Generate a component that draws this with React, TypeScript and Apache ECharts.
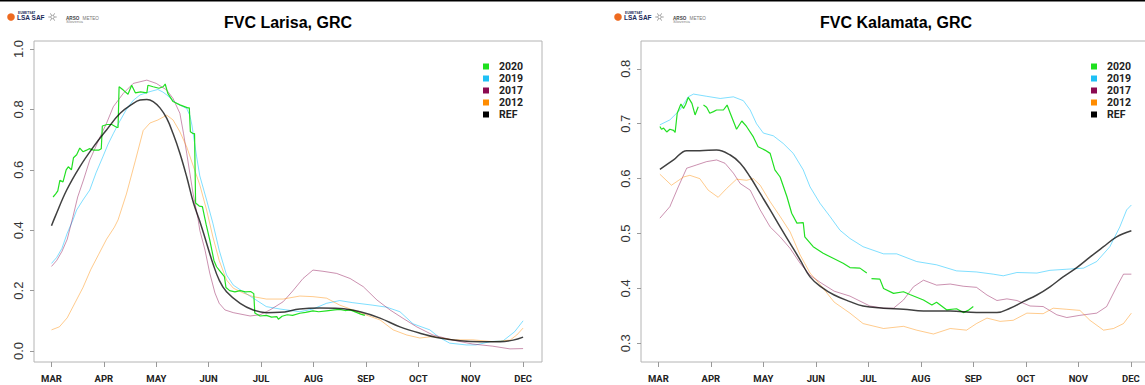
import React, { useEffect, useRef } from "react";
import * as echarts from "echarts";

// ---------- tick labels ----------
const MONTHS = ["MAR", "APR", "MAY", "JUN", "JUL", "AUG", "SEP", "OCT", "NOV", "DEC"];
const MONTH_POS = [0, 1, 2, 3, 4, 5, 6, 7, 8, 9];
const YTICKS_LEFT = [0, 0.2, 0.4, 0.6, 0.8, 1.0];
const YTICKS_RIGHT = [0.3, 0.4, 0.5, 0.6, 0.7, 0.8];

const TITLES = ["FVC Larisa, GRC", "FVC Kalamata, GRC"];
const SERIES_NAMES = ["2020", "2019", "2017", "2012", "REF"];
const LEGEND_COLORS = ["#1ee01e", "#1ec0f5", "#8b0a50", "#ff8c00", "#000000"];

// ---------- data: [month index from MAR 1, FVC] ----------
const LARISA_2020 = [
  [0.03, 0.51], [0.08, 0.52], [0.12, 0.53], [0.16, 0.565], [0.22, 0.56], [0.28, 0.6], [0.32, 0.61],
  [0.38, 0.6], [0.42, 0.64], [0.48, 0.65], [0.54, 0.672], [0.6, 0.66], [0.67, 0.665], [0.72, 0.67],
  [0.8, 0.665], [0.9, 0.665], [0.95, 0.67], [0.97, 0.745], [1.06, 0.75], [1.15, 0.75], [1.25, 0.74],
  [1.27, 0.74], [1.29, 0.875], [1.37, 0.864], [1.46, 0.85], [1.53, 0.88], [1.6, 0.855], [1.7, 0.858],
  [1.82, 0.855], [1.84, 0.88], [1.94, 0.875], [2.05, 0.87], [2.13, 0.875], [2.17, 0.884], [2.22, 0.853],
  [2.32, 0.826], [2.45, 0.815], [2.6, 0.805], [2.63, 0.805], [2.65, 0.726], [2.7, 0.72], [2.73, 0.72],
  [2.75, 0.49], [2.82, 0.48], [2.88, 0.478], [2.95, 0.42], [3.02, 0.368], [3.1, 0.3], [3.15, 0.279],
  [3.2, 0.268], [3.3, 0.246], [3.33, 0.21], [3.4, 0.2], [3.5, 0.196], [3.6, 0.2], [3.7, 0.196],
  [3.8, 0.197], [3.86, 0.19], [3.88, 0.126], [3.98, 0.116], [4.1, 0.118], [4.2, 0.112], [4.3, 0.114],
  [4.33, 0.105], [4.4, 0.115], [4.5, 0.12], [4.6, 0.118], [4.74, 0.125], [4.85, 0.128], [4.99, 0.133],
  [5.1, 0.13], [5.25, 0.133], [5.4, 0.136], [5.5, 0.138], [5.6, 0.134], [5.7, 0.136], [5.82, 0.128],
  [5.9, 0.122], [5.98, 0.118],
];
const LARISA_2019 = [
  [0, 0.29], [0.1, 0.31], [0.2, 0.34], [0.3, 0.39], [0.41, 0.434], [0.48, 0.467], [0.6, 0.5],
  [0.73, 0.533], [0.85, 0.59], [0.98, 0.643], [1.08, 0.685], [1.18, 0.72], [1.3, 0.76], [1.43, 0.8],
  [1.56, 0.83], [1.69, 0.848], [1.88, 0.859], [2.03, 0.866], [2.12, 0.858], [2.2, 0.848], [2.3, 0.832],
  [2.39, 0.82], [2.5, 0.81], [2.58, 0.803], [2.64, 0.78], [2.68, 0.748], [2.77, 0.643], [2.83, 0.58],
  [2.96, 0.5], [3.08, 0.423], [3.2, 0.334], [3.34, 0.252], [3.47, 0.218], [3.66, 0.196], [3.85, 0.175],
  [4.1, 0.147], [4.36, 0.139], [4.74, 0.13], [4.99, 0.139], [5.25, 0.158], [5.5, 0.167], [5.75, 0.16],
  [6.12, 0.152], [6.4, 0.145], [6.65, 0.13], [6.9, 0.09], [7.22, 0.07], [7.4, 0.045], [7.6, 0.026],
  [7.92, 0.02], [8.1, 0.02], [8.37, 0.031], [8.62, 0.034], [8.84, 0.064], [9, 0.1],
];
const LARISA_2017 = [
  [0, 0.28], [0.1, 0.3], [0.2, 0.33], [0.3, 0.37], [0.41, 0.445], [0.5, 0.51], [0.61, 0.566],
  [0.73, 0.632], [0.93, 0.71], [1.05, 0.754], [1.18, 0.809], [1.37, 0.853], [1.56, 0.886], [1.82, 0.897],
  [2.0, 0.886], [2.2, 0.864], [2.32, 0.836], [2.45, 0.787], [2.52, 0.72], [2.58, 0.655], [2.7, 0.523],
  [2.8, 0.434], [2.83, 0.4], [2.93, 0.334], [3.02, 0.258], [3.12, 0.192], [3.2, 0.158], [3.31, 0.136],
  [3.47, 0.127], [3.79, 0.116], [3.98, 0.12], [4.17, 0.136], [4.42, 0.163], [4.61, 0.2], [4.8, 0.24],
  [4.99, 0.268], [5.18, 0.264], [5.44, 0.257], [5.7, 0.24], [5.95, 0.213], [6.21, 0.169], [6.46, 0.136],
  [6.71, 0.108], [6.97, 0.08], [7.28, 0.053], [7.66, 0.036], [8.04, 0.023], [8.42, 0.016], [8.75, 0.007],
  [9, 0.008],
];
const LARISA_2012 = [
  [0, 0.07], [0.15, 0.08], [0.3, 0.11], [0.45, 0.16], [0.6, 0.21], [0.75, 0.27], [0.9, 0.32],
  [1.05, 0.37], [1.2, 0.41], [1.27, 0.434], [1.43, 0.52], [1.6, 0.63], [1.75, 0.73], [1.88, 0.755],
  [2.03, 0.765], [2.2, 0.781], [2.32, 0.765], [2.45, 0.726], [2.58, 0.676], [2.71, 0.61], [2.83, 0.55],
  [2.96, 0.467], [3.08, 0.378], [3.2, 0.3], [3.34, 0.235], [3.47, 0.208], [3.66, 0.192], [3.85, 0.18],
  [4.1, 0.172], [4.42, 0.172], [4.74, 0.182], [4.99, 0.18], [5.25, 0.175], [5.5, 0.152], [5.75, 0.136],
  [6.01, 0.119], [6.27, 0.103], [6.52, 0.07], [6.78, 0.053], [7.03, 0.043], [7.28, 0.048], [7.66, 0.037],
  [8.04, 0.037], [8.42, 0.031], [8.75, 0.036], [8.88, 0.053], [9, 0.076],
];
const LARISA_REF = [
  [0, 0.415], [0.07, 0.445], [0.29, 0.533], [0.54, 0.61], [0.8, 0.676], [1.05, 0.732], [1.31, 0.787],
  [1.56, 0.82], [1.69, 0.831], [1.82, 0.833], [1.94, 0.826], [2.07, 0.805], [2.2, 0.77], [2.32, 0.72],
  [2.45, 0.655], [2.58, 0.577], [2.71, 0.49], [2.83, 0.43], [2.96, 0.357], [3.08, 0.29], [3.2, 0.235],
  [3.34, 0.196], [3.6, 0.158], [3.85, 0.136], [4.1, 0.127], [4.36, 0.128], [4.74, 0.139], [5.12, 0.142],
  [5.5, 0.141], [5.89, 0.13], [6.27, 0.109], [6.65, 0.08], [7.03, 0.059], [7.41, 0.043], [7.8, 0.034],
  [8.18, 0.031], [8.56, 0.031], [8.81, 0.036], [9, 0.046],
];

const KALAMATA_2020 = [
  [0.03, 0.695], [0.06, 0.69], [0.1, 0.692], [0.16, 0.685], [0.22, 0.69], [0.29, 0.688], [0.32, 0.684],
  [0.36, 0.719], [0.43, 0.736], [0.48, 0.728], [0.52, 0.735], [0.57, 0.748], [0.64, 0.737], [0.7, 0.716],
  [0.76, 0.731], [0.81, "-"], [0.86, 0.734], [0.92, 0.73], [0.98, 0.719], [1.05, 0.722], [1.11, 0.725],
  [1.24, 0.725], [1.31, 0.734], [1.37, 0.719], [1.49, 0.69], [1.59, 0.705], [1.68, 0.695], [1.81, 0.676],
  [1.9, 0.658], [2.03, 0.652], [2.13, 0.646], [2.22, 0.616], [2.32, 0.603], [2.45, 0.567], [2.54, 0.537],
  [2.64, 0.519], [2.76, 0.52], [2.79, 0.494], [2.95, 0.476], [3.14, 0.464], [3.33, 0.455], [3.52, 0.446],
  [3.65, 0.438], [3.84, 0.437], [3.97, 0.428], [4.01, "-"], [4.06, 0.418], [4.22, 0.417], [4.29, 0.4],
  [4.48, 0.391], [4.67, 0.394], [4.79, 0.389], [5.05, 0.379], [5.21, 0.37], [5.3, 0.375], [5.49, 0.361],
  [5.68, 0.363], [5.81, 0.356], [5.9, 0.36], [6.0, 0.367],
];
const KALAMATA_2019 = [
  [0.03, 0.698], [0.22, 0.707], [0.41, 0.725], [0.57, 0.749], [0.67, 0.754], [0.92, 0.75], [1.18, 0.746],
  [1.43, 0.749], [1.62, 0.742], [1.75, 0.725], [1.87, 0.7], [2.0, 0.683], [2.19, 0.678], [2.38, 0.664],
  [2.57, 0.646], [2.76, 0.616], [2.89, 0.585], [3.08, 0.555], [3.27, 0.531], [3.46, 0.506], [3.65, 0.491],
  [3.9, 0.476], [4.29, 0.463], [4.54, 0.463], [4.92, 0.449], [5.3, 0.443], [5.68, 0.432], [6.06, 0.43],
  [6.38, 0.426], [6.57, 0.423], [6.83, 0.429], [7.21, 0.428], [7.46, 0.433], [7.78, 0.435], [8.1, 0.437],
  [8.35, 0.449], [8.6, 0.476], [8.79, 0.512], [8.92, 0.543], [9.01, 0.552],
];
const KALAMATA_2017 = [
  [0.03, 0.528], [0.22, 0.549], [0.38, 0.585], [0.54, 0.619], [0.73, 0.625], [0.92, 0.631], [1.11, 0.634],
  [1.27, 0.628], [1.43, 0.61], [1.56, 0.591], [1.75, 0.579], [1.94, 0.543], [2.13, 0.512], [2.32, 0.494],
  [2.51, 0.473], [2.7, 0.446], [2.89, 0.424], [3.1, 0.41], [3.35, 0.395], [3.65, 0.386], [4.03, 0.368],
  [4.29, 0.364], [4.48, 0.364], [4.67, 0.379], [4.86, 0.403], [5.05, 0.415], [5.3, 0.406], [5.56, 0.408],
  [5.81, 0.404], [6.06, 0.402], [6.26, 0.388], [6.45, 0.378], [6.64, 0.381], [6.83, 0.378], [7.08, 0.368],
  [7.33, 0.367], [7.59, 0.352], [7.78, 0.347], [8.03, 0.351], [8.35, 0.355], [8.54, 0.367], [8.73, 0.403],
  [8.86, 0.426], [9.01, 0.426],
];
const KALAMATA_2012 = [
  [0.03, 0.608], [0.25, 0.588], [0.48, 0.603], [0.6, 0.606], [0.79, 0.6], [0.95, 0.579], [1.14, 0.566],
  [1.3, 0.582], [1.49, 0.599], [1.68, 0.597], [1.81, 0.6], [1.94, 0.588], [2.13, 0.558], [2.32, 0.531],
  [2.51, 0.503], [2.7, 0.461], [2.89, 0.428], [3.1, 0.405], [3.35, 0.375], [3.65, 0.355], [3.9, 0.336],
  [4.29, 0.327], [4.67, 0.331], [4.92, 0.324], [5.24, 0.317], [5.56, 0.327], [5.87, 0.324], [6.06, 0.336],
  [6.26, 0.346], [6.51, 0.34], [6.76, 0.342], [7.02, 0.355], [7.33, 0.354], [7.52, 0.364], [7.78, 0.362],
  [8.03, 0.36], [8.22, 0.342], [8.48, 0.324], [8.67, 0.327], [8.86, 0.336], [9.01, 0.355],
];
const KALAMATA_REF = [
  [0.03, 0.617], [0.29, 0.634], [0.54, 0.651], [0.79, 0.651], [1.11, 0.652], [1.37, 0.643], [1.56, 0.628],
  [1.75, 0.603], [1.94, 0.573], [2.13, 0.543], [2.32, 0.512], [2.51, 0.482], [2.7, 0.452], [2.89, 0.421],
  [3.1, 0.403], [3.35, 0.388], [3.65, 0.376], [3.9, 0.368], [4.29, 0.364], [4.67, 0.362], [5.05, 0.359],
  [5.56, 0.359], [6.06, 0.356], [6.45, 0.356], [6.7, 0.364], [6.95, 0.376], [7.21, 0.388], [7.46, 0.403],
  [7.71, 0.421], [7.97, 0.438], [8.22, 0.457], [8.48, 0.476], [8.73, 0.494], [9.01, 0.505],
];

const PANEL_DATA = [
  [LARISA_2020, LARISA_2019, LARISA_2017, LARISA_2012, LARISA_REF],
  [KALAMATA_2020, KALAMATA_2019, KALAMATA_2017, KALAMATA_2012, KALAMATA_REF],
];

const LINE_STYLES = [
  { color: "#22e022", width: 1.2, opacity: 1 },
  { color: "#00bfff", width: 1, opacity: 0.5 },
  { color: "#8b0a50", width: 1, opacity: 0.45 },
  { color: "#ff8c00", width: 1, opacity: 0.45 },
  { color: "#000000", width: 1.5, opacity: 0.75 },
];

const W = 1145;
const H = 385;

export default function App() {
  const ref = useRef<HTMLDivElement>(null);

  useEffect(() => {
    document.body.style.margin = "0";
    if (!ref.current) return;
    const chart = echarts.init(ref.current, null, { renderer: "svg" });

    const grids = [
      { left: 34, top: 41, width: 508, height: 321 },
      { left: 641, top: 41, width: 508, height: 321 },
    ];
    const xRanges = [
      [-0.334, 9.361],
      [-0.33, 9.346],
    ];
    const yRanges = [
      [-0.0364, 1.0265],
      [0.266, 0.8507],
    ];
    const yTicks = [YTICKS_LEFT, YTICKS_RIGHT];

    const xAxis = grids.map((_, i) => ({
      type: "value",
      gridIndex: i,
      min: xRanges[i][0],
      max: xRanges[i][1],
      axisLine: { show: false, onZero: false },
      splitLine: { show: false },
      axisTick: {
        show: true,
        length: 5,
        customValues: MONTH_POS,
        lineStyle: { color: "#999", width: 1 },
      },
      axisLabel: {
        customValues: MONTH_POS,
        margin: 11,
        fontFamily: "Roboto",
        fontWeight: "bold",
        fontSize: 9.5,
        color: "#222",
        formatter: (v: number) => MONTHS[Math.round(v)] ?? "",
      },
    }));

    const yAxis = grids.map((_, i) => ({
      type: "value",
      gridIndex: i,
      min: yRanges[i][0],
      max: yRanges[i][1],
      axisLine: { show: false, onZero: false },
      splitLine: { show: false },
      axisTick: {
        show: true,
        length: 4,
        customValues: yTicks[i],
        lineStyle: { color: "#999", width: 1 },
      },
      axisLabel: {
        customValues: yTicks[i],
        rotate: 90,
        margin: 9,
        fontFamily: "Liberation Sans",
        fontSize: 13,
        color: "#333",
        formatter: (v: number) => v.toFixed(1),
      },
    }));

    const series: any[] = [];
    PANEL_DATA.forEach((panel, p) => {
      panel.forEach((data, s) => {
        const st = LINE_STYLES[s];
        series.push({
          type: "line",
          name: SERIES_NAMES[s],
          xAxisIndex: p,
          yAxisIndex: p,
          data,
          showSymbol: false,
          symbol: "none",
          smooth: s === 4 ? 0.4 : false,
          connectNulls: false,
          z: s === 4 ? 5 : 3 + (s === 0 ? 1 : 0),
          lineStyle: { color: st.color, width: st.width, opacity: st.opacity },
          itemStyle: { color: st.color },
        });
      });
    });

    const graphics: any[] = [];
    graphics.push({
      type: "rect",
      shape: { x: 0, y: 0, width: W, height: 1.5 },
      style: { fill: "#000" },
    });

    // logos
    const logoOffsets = [0, 607];
    logoOffsets.forEach((o) => {
      graphics.push({ type: "circle", shape: { cx: 11 + o, cy: 17, r: 3.8 }, style: { fill: "#ee6a1f" } });
      graphics.push({
        type: "text",
        x: 18 + o,
        y: 11.5,
        style: { text: "EUMETSAT", fontSize: 3.2, fontWeight: "bold", fill: "#1b2a5a", fontFamily: "Liberation Sans" },
      });
      graphics.push({
        type: "text",
        x: 17 + o,
        y: 14,
        style: { text: "LSA SAF", fontSize: 6.5, fontWeight: "bold", fill: "#1b2a5a", fontFamily: "Liberation Sans" },
      });
      const cx = 52.5 + o;
      const cy = 17;
      for (let k = 0; k < 6; k++) {
        const a = (k * Math.PI) / 3;
        graphics.push({
          type: "line",
          shape: { x1: cx, y1: cy, x2: cx + 4.2 * Math.cos(a), y2: cy + 4.2 * Math.sin(a) },
          style: { stroke: "#888", lineWidth: 0.8 },
        });
      }
      graphics.push({ type: "circle", shape: { cx, cy, r: 1.6 }, style: { fill: "#fff", stroke: "#888", lineWidth: 0.6 } });
      graphics.push({
        type: "text",
        x: 66 + o,
        y: 12.5,
        style: {
          text: "{b|ARSO} {n|METEO}",
          rich: {
            b: { fontSize: 4.6, fontWeight: "bold", fill: "#444", fontFamily: "Liberation Sans" },
            n: { fontSize: 4.6, fill: "#777", fontFamily: "Liberation Sans" },
          },
        },
      });
      graphics.push({
        type: "text",
        x: 66 + o,
        y: 19.5,
        style: { text: "Slovenia", fontSize: 4.4, fill: "#888", fontFamily: "Liberation Sans" },
      });
    });

    // titles
    const titleCenters = [288, 896];
    titleCenters.forEach((cx, i) => {
      graphics.push({
        type: "text",
        x: cx,
        y: 22,
        style: {
          text: TITLES[i],
          fontSize: 16,
          fontWeight: "bold",
          fill: "#000",
          fontFamily: "Liberation Sans",
          align: "center",
          verticalAlign: "middle",
        },
      });
    });

    // legends
    const legendX = [483, 1091];
    legendX.forEach((lx) => {
      SERIES_NAMES.forEach((name, k) => {
        const cy = 66.5 + 12 * k;
        graphics.push({
          type: "rect",
          shape: { x: lx, y: cy - 3, width: 6, height: 6 },
          style: { fill: LEGEND_COLORS[k] },
        });
        graphics.push({
          type: "text",
          x: lx + 16,
          y: cy,
          style: {
            text: name,
            fontSize: 10.5,
            fontWeight: "bold",
            fill: "#222",
            fontFamily: "Roboto",
            verticalAlign: "middle",
          },
        });
      });
    });

    chart.setOption({
      animation: false,
      backgroundColor: "#fff",
      grid: grids.map((g) => ({
        ...g,
        show: true,
        containLabel: false,
        outerBoundsMode: "none",
        borderColor: "#b4b4b4",
        borderWidth: 1,
        backgroundColor: "transparent",
      })),
      xAxis,
      yAxis,
      series,
      graphic: graphics,
    });

    return () => chart.dispose();
  }, []);

  return <div ref={ref} style={{ width: W, height: H }} />;
}
